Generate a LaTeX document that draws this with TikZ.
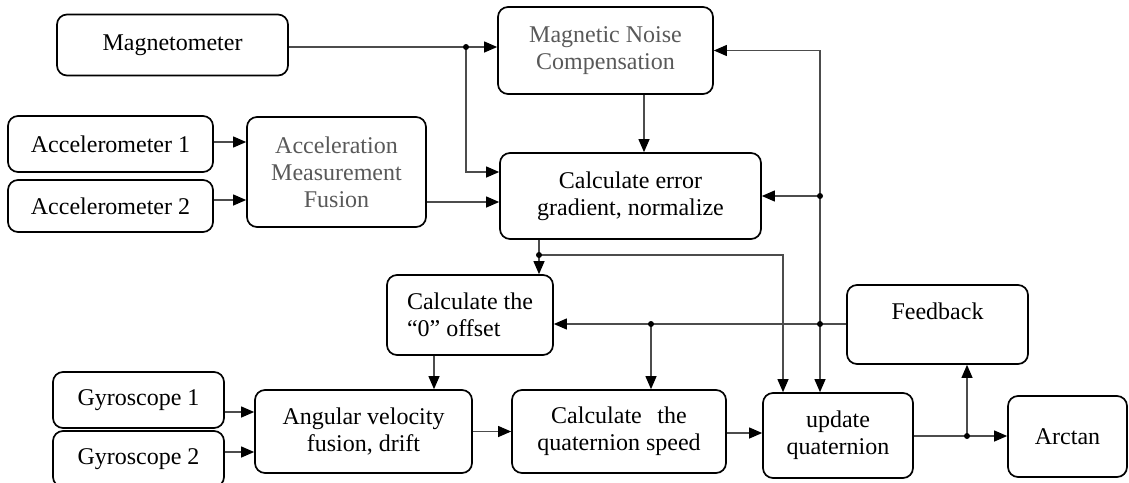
\documentclass[tikz,border=0pt]{standalone}
\usepackage{fontspec}
\setmainfont{Liberation Serif}
\usepackage{tikz}
\usetikzlibrary{arrows.meta}

\begin{document}
\begin{tikzpicture}[x=1pt,y=-1pt,
    blk/.style={draw,line width=1.7pt,rounded corners=10pt,inner sep=0pt,align=center,font=\fontsize{24}{27}\selectfont},
    wire/.style={draw=black!70,line width=1.1pt},
    arr/.style={wire,-{Triangle[length=13pt,width=11pt,black]}}]
    \useasboundingbox (0,0) rectangle (1129,482);
    \clip (0,0) rectangle (1129,482);
    % Sensors
    \node[blk,minimum width=231pt,minimum height=61pt] (mag) at (172.5,45) {Magnetometer};
    \node[blk,minimum width=205pt,minimum height=56pt] (acc1) at (110.5,144) {Accelerometer 1};
    \node[blk,minimum width=205pt,minimum height=52pt] (acc2) at (110.5,206) {Accelerometer 2};
    \node[blk,minimum width=171pt,minimum height=56pt] (gyro1) at (138.5,400) {Gyroscope 1};
    \node[blk,minimum width=171pt,minimum height=56pt] (gyro2) at (138.5,459) {Gyroscope 2};
    % Processing blocks
    \node[blk,text=black!65,minimum width=179pt,minimum height=110pt] (accfus) at (336.5,172) {Acceleration\\Measurement\\Fusion};
    \node[blk,text=black!65,minimum width=215pt,minimum height=87pt] (mnc) at (605.5,50.5) {Magnetic Noise\\Compensation};
    \node[blk,minimum width=261pt,minimum height=86pt] (calcerr) at (630.5,196) {Calculate error\\gradient, normalize};
    \node[blk,align=left,minimum width=166pt,minimum height=80pt] (offset) at (470,315) {Calculate the\\``0'' offset};
    \node[blk,minimum width=217pt,minimum height=83pt] (angvel) at (363.5,431.5) {Angular velocity\\fusion, drift};
    \node[blk,minimum width=214pt,minimum height=83pt] (qspeed) at (619,431.5) {Calculate\hspace{0.4em} the\\quaternion speed};
    \node[blk,minimum width=150pt,minimum height=85pt] (upd) at (838,435.5) {update\\quaternion};
    \node[blk,minimum width=181pt,minimum height=79pt] (fb) at (937.5,324.5) {Feedback\\\mbox{}};
    \node[blk,minimum width=119pt,minimum height=81pt] (arctan) at (1067.5,436.5) {Arctan};
    % Junctions
    \coordinate (j1) at (466,47);
    \coordinate (j2) at (651,324);
    \coordinate (j3) at (820,324);
    \coordinate (j4) at (539,255);
    \coordinate (j5) at (967,436);
    \coordinate (j6) at (j3 |- calcerr.east);
    % Connectors
    \draw[arr] (mag.east |- j1) -- (j1 -| mnc.west);
    \draw[arr] (j1) |- ([yshift=24pt]calcerr.west);
    \draw[arr] (acc1.east |- 0,142) -- (accfus.west |- 0,142);
    \draw[arr] (acc2.east |- 0,200) -- (accfus.west |- 0,200);
    \draw[arr] (accfus.east |- 0,202) -- (calcerr.west |- 0,202);
    \draw[arr] ([xshift=38.5pt]mnc.south) -- ([xshift=38.5pt]mnc.south |- calcerr.north);
    \draw[arr] (j3) |- (mnc.east);
    \draw[arr] (j6) -- (calcerr.east);
    \draw[arr] (j3) -- (j3 |- upd.north);
    \draw[arr] (fb.west |- j3) -- (j3 -| offset.east);
    \draw[arr] (j2) -- (j2 |- qspeed.north);
    \draw[wire] (j4 |- calcerr.south) -- (j4);
    \draw[arr] (j4) -- (j4 |- offset.north);
    \draw[arr] (j4) -| ([xshift=-55pt]upd.north);
    \draw[arr] ([xshift=-36pt]offset.south) -- ([xshift=-36pt]offset.south |- angvel.north);
    \draw[arr] (gyro1.east |- 0,412) -- (angvel.west |- 0,412);
    \draw[arr] (gyro2.east |- 0,452) -- (angvel.west |- 0,452);
    \draw[arr] (angvel.east) -- (qspeed.west);
    \draw[arr] (qspeed.east |- 0,433) -- (upd.west |- 0,433);
    \draw[arr] (upd.east |- j5) -- (arctan.west |- j5);
    \draw[arr] (j5) -- (j5 |- fb.south);
    \foreach \j in {j1,j2,j3,j4,j5,j6} {
      \fill (\j) circle (3pt);
    }
\end{tikzpicture}
\end{document}
